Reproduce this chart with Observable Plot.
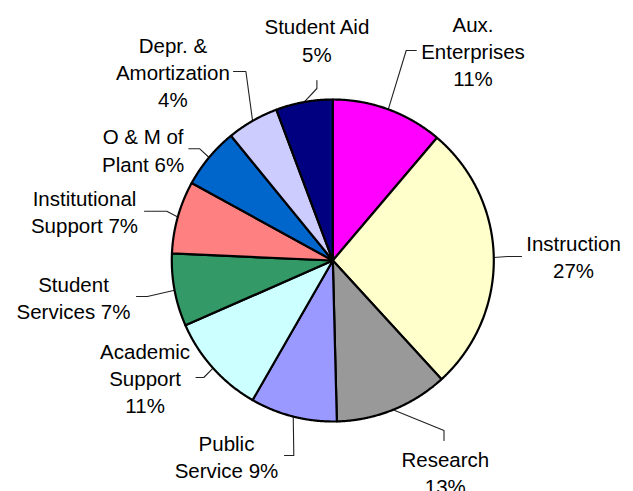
<!DOCTYPE html>
<html><head><meta charset="utf-8">
<script src="https://cdn.jsdelivr.net/npm/d3@7"></script>
<script src="https://cdn.jsdelivr.net/npm/@observablehq/plot@0.6"></script>
<style>html,body{margin:0;padding:0;background:#fff;overflow:hidden}</style>
</head><body><div id="chart"></div>
<script>
// Slices, clockwise from 12 o'clock
const categories = ["Aux. Enterprises","Instruction","Research","Public Service","Academic Support","Student Services","Institutional Support","O & M of Plant","Depr. & Amortization","Student Aid"];
// slice shares as drawn (percent of the circle)
const shares = [11.2, 27.0, 11.4, 8.7, 10.1, 7.3, 7.3, 6.1, 5.2, 5.7];
// percentages printed on the labels
const labelPct = ["11%","27%","13%","9%","11%","7%","7%","6%","4%","5%"];
// label texts as wrapped in the chart
const labelText = ["Aux.\nEnterprises\n11%","Instruction\n27%","Research\n13%","Public\nService 9%","Academic\nSupport\n11%","Student\nServices 7%","Institutional\nSupport 7%","O & M of\nPlant 6%","Depr. &\nAmortization\n4%","Student Aid\n5%"];
const colors = ["#FF00FF","#FFFFCC","#999999","#9999FF","#CCFFFF","#339966","#FF8080","#0066CC","#CCCCFF","#000080"];

// ---- layout (pixels in a 633x491 frame) ----
const W = 633, H = 491;
const cx = 332.3, cy = 260, R = 161;
const labelPos = [[472.5,50],[573,255],[444.8,471.5],[226,455],[144.6,376.7],[73,296.4],[84,210.4],[142.6,148.9],[172.4,70.9],[316.4,38.9]];
const leaderElbow = [[405.7,50],[507,256],[443.5,430],[293.3,455],[203.3,377],[146.9,296],[166.3,210.7],[199.3,148.3],[245.4,71],[316.4,88]];
const leaderEnd = [[415.8,50],[521,256],[443.5,440],[284,455],[195.5,377],[136,296],[144,210.7],[188.3,148.3],[233,71],[316.4,80]];

const arcs = d3.pie().sort(null).value(d => d)(shares);
const slicePts = [];
arcs.forEach((a, i) => {
  const name = categories[i];
  slicePts.push({name, color: colors[i], x: cx, y: cy});
  const n = Math.max(8, Math.ceil((a.endAngle - a.startAngle) / 0.005));
  for (let k = 0; k <= n; k++) {
    const t = a.startAngle + (a.endAngle - a.startAngle) * k / n;
    slicePts.push({name, color: colors[i], x: cx + R * Math.sin(t), y: cy - R * Math.cos(t)});
  }
  slicePts.push({name, color: colors[i], x: cx, y: cy});
});

const leaders = [];
arcs.forEach((a, i) => {
  const m = (a.startAngle + a.endAngle) / 2;
  leaders.push({name: categories[i], x: cx + R * Math.sin(m), y: cy - R * Math.cos(m)});
  leaders.push({name: categories[i], x: leaderElbow[i][0], y: leaderElbow[i][1]});
  leaders.push({name: categories[i], x: leaderEnd[i][0], y: leaderEnd[i][1]});
});

const labels = categories.map((c, i) => ({name: c, text: labelText[i], x: labelPos[i][0], y: labelPos[i][1]}));

const chart = Plot.plot({
  width: W, height: H,
  margin: 0,
  x: {domain: [0, W], range: [0, W], axis: null},
  y: {domain: [0, H], range: [0, H], axis: null},
  color: {type: "identity"},
  style: {fontFamily: "'Liberation Sans', Arial, sans-serif", background: "#fff"},
  marks: [
    Plot.line(leaders, {x: "x", y: "y", z: "name", stroke: "#222", strokeWidth: 1.1, curve: "linear"}),
    Plot.line(slicePts, {x: "x", y: "y", z: "name", fill: "color", stroke: "black", strokeWidth: 2.2, strokeLinejoin: "round", curve: "linear"}),
    Plot.text(labels, {x: "x", y: "y", text: "text", fill: "black", fontSize: 20.5, lineHeight: 1.33, lineAnchor: "middle", textAnchor: "middle"})
  ]
});
document.getElementById("chart").appendChild(chart);
</script>
</body></html>
